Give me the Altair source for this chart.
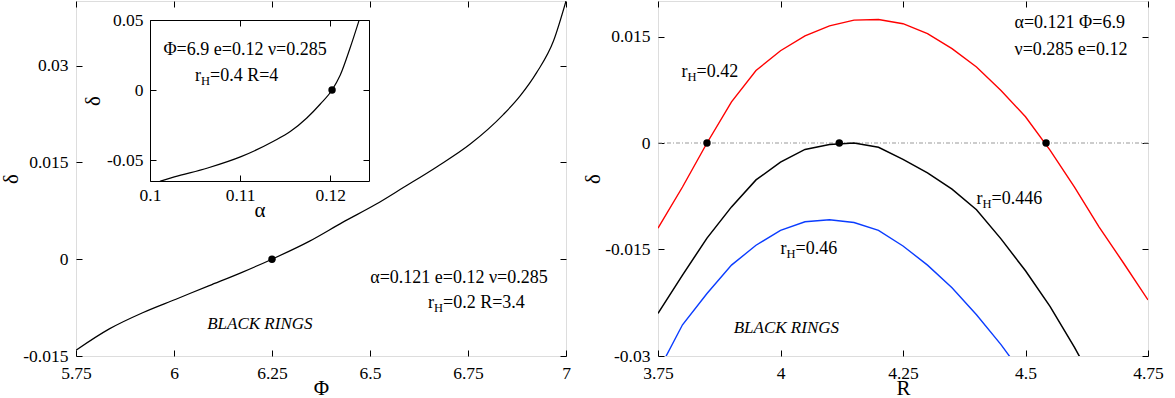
import altair as alt
import pandas as pd

FONT = "Liberation Serif"
W, H = 490, 355

# ---------------- data: left panel (delta vs Phi) ----------------
phi = [5.75, 5.835, 5.92, 6.005, 6.09, 6.175, 6.25, 6.346, 6.43, 6.515, 6.585,
       6.67, 6.755, 6.84, 6.883, 6.925, 6.968, 7.0]
delta_phi = [-0.0141, -0.0108, -0.0083, -0.0062, -0.0041, -0.0020, 0.0, 0.0028,
             0.0057, 0.0085, 0.0111, 0.0143, 0.0178, 0.0224, 0.0253, 0.0289,
             0.0338, 0.0400]
phi_dot = [6.25]
delta_phi_dot = [0.0]

# inset (delta vs alpha)
alpha = [0.1011, 0.1027, 0.1064, 0.1101, 0.1137, 0.1156, 0.1174, 0.1189, 0.1202,
         0.1211, 0.1222, 0.1232]
delta_alpha = [-0.0652, -0.0621, -0.0557, -0.0476, -0.0366, -0.0295, -0.0200,
               -0.0100, 0.0, 0.0105, 0.0300, 0.0498]
alpha_dot = [0.1202]
delta_alpha_dot = [0.0]

# ---------------- data: right panel (delta vs R) ----------------
R_red = [3.75, 3.8, 3.85, 3.9, 3.95, 4.0, 4.05, 4.1, 4.15, 4.2, 4.25, 4.3, 4.35,
         4.4, 4.45, 4.5, 4.55, 4.6, 4.65, 4.7, 4.75]
d_red = [-0.0120, -0.0062, 0.0, 0.0058, 0.0102, 0.0130, 0.0151, 0.0165, 0.0173,
         0.0174, 0.0168, 0.0154, 0.0133, 0.0107, 0.0074, 0.0037, -0.0010, -0.0062,
         -0.0118, -0.0169, -0.0221]
R_black = [3.75, 3.8, 3.85, 3.9, 3.95, 4.0, 4.05, 4.1, 4.15, 4.2, 4.25, 4.3, 4.35,
           4.4, 4.45, 4.5, 4.55, 4.6, 4.65]
d_black = [-0.0240, -0.0186, -0.0134, -0.0090, -0.0052, -0.0027, -0.0009, -0.0002,
           0.0, -0.0006, -0.0023, -0.0042, -0.0065, -0.0094, -0.0135, -0.0180,
           -0.0230, -0.0288, -0.0350]
R_blue = [3.75, 3.8, 3.85, 3.9, 3.95, 4.0, 4.05, 4.1, 4.15, 4.2, 4.25, 4.3, 4.35,
          4.4, 4.45, 4.5]
d_blue = [-0.0322, -0.0256, -0.0212, -0.0172, -0.0144, -0.0123, -0.0111, -0.0108,
          -0.0112, -0.0123, -0.0145, -0.0172, -0.0204, -0.0242, -0.0284, -0.0331]
R_dots = [3.85, 4.12, 4.542]
d_dots = [0.0, 0.0, 0.0]
zero_line = [0.0]

# ticks and domains
phi_ticks = [5.75, 6, 6.25, 6.5, 6.75, 7]
dphi_ticks = [-0.015, 0, 0.015, 0.03]
alpha_ticks = [0.1, 0.11, 0.12]
dalpha_ticks = [-0.05, 0, 0.05]
R_ticks = [3.75, 4, 4.25, 4.5, 4.75]
dR_ticks = [-0.03, -0.015, 0, 0.015]
phi_dom = [5.75, 7.0]
dphi_dom = [-0.015, 0.04]
alpha_dom = [0.1, 0.1243]
dalpha_dom = [-0.065, 0.05]
R_dom = [3.75, 4.75]
dR_dom = [-0.03, 0.02]

# annotation texts (positions in data units)
left_txt = ["α=0.121 e=0.12 ν=0.285", "BLACK RINGS"]
left_txt_x = [6.727, 6.219]
left_txt_y = [-0.0029, -0.0100]
left_rh_x = [6.648]
left_rh_y = [-0.0068]
left_rh_rest = ["=0.2 R=3.4"]
inset_txt = ["Φ=6.9 e=0.12 ν=0.285"]
inset_txt_x = [0.11055]
inset_txt_y = [0.0289]
inset_rh_x = [0.105]
inset_rh_y = [0.0098]
inset_rh_rest = ["=0.4 R=4"]
right_txt = ["α=0.121 Φ=6.9", "ν=0.285 e=0.12"]
right_txt_x = [4.4776, 4.4776]
right_txt_y = [0.01685, 0.01312]
right_rh_x = [3.798, 4.400, 4.0]
right_rh_y = [0.00997, -0.0079, -0.01493]
right_rh_rest = ["=0.42", "=0.446", "=0.46"]
right_br_x = [4.012]
right_br_y = [-0.0260]

INSET_XR = [74, 293]
INSET_YR = [180, 19]
TXT = 18
LAB = 17.5


def sc(dom, rng=None):
    if rng is None:
        return alt.Scale(domain=dom, nice=False, zero=False)
    return alt.Scale(domain=dom, range=rng, nice=False, zero=False)


def lab_axis(orient, values, title, offset=0, dom=False, lp=8, tp=0):
    return alt.Axis(orient=orient, values=values, title=title, offset=offset,
                    ticks=False, labelPadding=lp,
                    labelExpr="datum.value + ''", labelFont=FONT, labelFontSize=LAB,
                    labelColor="black", titleFont=FONT, titleFontSize=21,
                    titleFontWeight="normal", titleColor="black",
                    titlePadding=tp,
                    domain=dom, domainColor="black", grid=False,
                    labelFlush=False, labelOverlap=False)


def tick_axis(orient, values, offset, dom=False):
    return alt.Axis(orient=orient, values=values, offset=offset, labels=False,
                    title=None, tickSize=6, tickColor="black", domain=dom,
                    domainColor="black", grid=False)


def df(x, y):
    return pd.DataFrame({"x": x, "y": y})


def ghost(data):
    # invisible carrier mark for an extra axis
    return alt.Chart(data).mark_point(opacity=0, size=0, strokeWidth=0, clip=True)


def frame_layers(data, xdom, ydom, xt, yt, xtitle, ytitle, smooth=True):
    kw = dict(color="black", strokeWidth=1.2 if smooth else 1.5, clip=True)
    if smooth:
        kw["interpolate"] = "monotone"
    layers = [alt.Chart(data).mark_line(**kw).encode(
        x=alt.X("x:Q", scale=sc(xdom), axis=lab_axis("bottom", xt, xtitle, lp=8, tp=-4)),
        y=alt.Y("y:Q", scale=sc(ydom), axis=lab_axis("left", yt, ytitle, lp=8, tp=1)))]
    layers.append(ghost(data).encode(
        x=alt.X("x:Q", scale=sc(xdom), axis=tick_axis("top", xt, -H)),
        y=alt.Y("y:Q", scale=sc(ydom), axis=tick_axis("right", yt, -W))))
    layers.append(ghost(data).encode(
        x=alt.X("x:Q", scale=sc(xdom), axis=tick_axis("bottom", xt, -H)),
        y=alt.Y("y:Q", scale=sc(ydom), axis=tick_axis("left", yt, -W))))
    return layers


def text_layer(x, y, t, xdom, ydom, xr=None, yr=None, align="center", size=TXT,
               italic=False, dx=0, dy=0):
    d = pd.DataFrame({"x": x, "y": y, "t": t})
    kw = dict(font=FONT, fontSize=size, align=align, baseline="middle",
              color="black", dx=dx, dy=dy)
    if italic:
        kw["fontStyle"] = "italic"
    return alt.Chart(d).mark_text(**kw).encode(
        x=alt.X("x:Q", scale=sc(xdom, xr), axis=None),
        y=alt.Y("y:Q", scale=sc(ydom, yr), axis=None),
        text="t:N")


def rh_layers(x, y, rest, xdom, ydom, xr=None, yr=None):
    n = len(x)
    return [
        text_layer(x, y, ["r"] * n, xdom, ydom, xr, yr, align="left"),
        text_layer(x, y, ["H"] * n, xdom, ydom, xr, yr, align="left", size=12.5, dx=6, dy=5),
        text_layer(x, y, rest, xdom, ydom, xr, yr, align="left", dx=15),
    ]


def dots(x, y, xdom, ydom, xr=None, yr=None):
    return alt.Chart(df(x, y)).mark_circle(color="black", opacity=1, size=55).encode(
        x=alt.X("x:Q", scale=sc(xdom, xr), axis=None),
        y=alt.Y("y:Q", scale=sc(ydom, yr), axis=None))


# ---------------- left panel ----------------
dL = df(phi, delta_phi)
left_layers = frame_layers(dL, phi_dom, dphi_dom, phi_ticks, dphi_ticks, "Φ", "δ")
left_layers.append(dots(phi_dot, delta_phi_dot, phi_dom, dphi_dom))
left_layers.append(text_layer(left_txt_x[:1], left_txt_y[:1], left_txt[:1], phi_dom, dphi_dom))
left_layers.append(text_layer(left_txt_x[1:], left_txt_y[1:], left_txt[1:], phi_dom, dphi_dom,
                              italic=True, size=17))
left_layers += rh_layers(left_rh_x, left_rh_y, left_rh_rest, phi_dom, dphi_dom)

# inset
dI = df(alpha, delta_alpha)
inset_a = alt.Chart(dI).mark_line(color="black", strokeWidth=1.2, interpolate="monotone").encode(
    x=alt.X("x:Q", scale=sc(alpha_dom, INSET_XR),
            axis=lab_axis("bottom", alpha_ticks, "α", offset=-(H - INSET_YR[0]), dom=True,
                          lp=5, tp=-4)),
    y=alt.Y("y:Q", scale=sc(dalpha_dom, INSET_YR),
            axis=lab_axis("left", dalpha_ticks, "δ", offset=-INSET_XR[0], dom=True,
                          lp=7, tp=3)))
inset_b = ghost(dI).encode(
    x=alt.X("x:Q", scale=sc(alpha_dom, INSET_XR),
            axis=tick_axis("top", alpha_ticks, -INSET_YR[0])),
    y=alt.Y("y:Q", scale=sc(dalpha_dom, INSET_YR),
            axis=tick_axis("right", dalpha_ticks, -(W - INSET_XR[0]))))
inset_c = ghost(dI).encode(
    x=alt.X("x:Q", scale=sc(alpha_dom, INSET_XR),
            axis=tick_axis("bottom", alpha_ticks, -(H - INSET_YR[1]), dom=True)),
    y=alt.Y("y:Q", scale=sc(dalpha_dom, INSET_YR),
            axis=tick_axis("left", dalpha_ticks, -INSET_XR[1], dom=True)))
left_layers += [inset_a, inset_b, inset_c]
left_layers.append(dots(alpha_dot, delta_alpha_dot, alpha_dom, dalpha_dom, INSET_XR, INSET_YR))
left_layers.append(text_layer(inset_txt_x, inset_txt_y, inset_txt, alpha_dom, dalpha_dom, INSET_XR, INSET_YR))
left_layers += rh_layers(inset_rh_x, inset_rh_y, inset_rh_rest, alpha_dom, dalpha_dom, INSET_XR, INSET_YR)

left = alt.layer(*left_layers).resolve_scale(x="independent", y="independent").resolve_axis(
    x="independent", y="independent").properties(width=W, height=H)

# ---------------- right panel ----------------
dBk = df(R_black, d_black)
right_layers = []
zero = alt.Chart(pd.DataFrame({"y": zero_line})).mark_rule(
    color="#999999", strokeWidth=1, strokeDash=[4, 2, 1, 2]).encode(
    y=alt.Y("y:Q", scale=sc(dR_dom), axis=None))
right_layers.append(zero)
right_layers.append(alt.Chart(df(R_red, d_red)).mark_line(color="#ff0000", strokeWidth=1.4, clip=True).encode(
    x=alt.X("x:Q", scale=sc(R_dom), axis=None), y=alt.Y("y:Q", scale=sc(dR_dom), axis=None)))
right_layers.append(alt.Chart(df(R_blue, d_blue)).mark_line(color="#0a3cff", strokeWidth=1.4, clip=True).encode(
    x=alt.X("x:Q", scale=sc(R_dom), axis=None), y=alt.Y("y:Q", scale=sc(dR_dom), axis=None)))
right_layers += frame_layers(dBk, R_dom, dR_dom, R_ticks, dR_ticks, "R", "δ", smooth=False)
right_layers.append(dots(R_dots, d_dots, R_dom, dR_dom))
right_layers.append(text_layer(right_txt_x, right_txt_y, right_txt, R_dom, dR_dom, align="left"))
right_layers.append(text_layer(right_br_x, right_br_y, ["BLACK RINGS"], R_dom, dR_dom,
                               italic=True, size=17))
right_layers += rh_layers(right_rh_x, right_rh_y, right_rh_rest, R_dom, dR_dom)

right = alt.layer(*right_layers).resolve_scale(x="independent", y="independent").resolve_axis(
    x="independent", y="independent").properties(width=W, height=H)

chart = alt.hconcat(left, right, spacing=11).properties(
    padding={"left": 0, "top": 0, "right": 0, "bottom": 0}
).configure_view(stroke="black", strokeWidth=1).configure(background="white")

chart.save("out.html", embed_options={"renderer": "svg", "actions": False})
